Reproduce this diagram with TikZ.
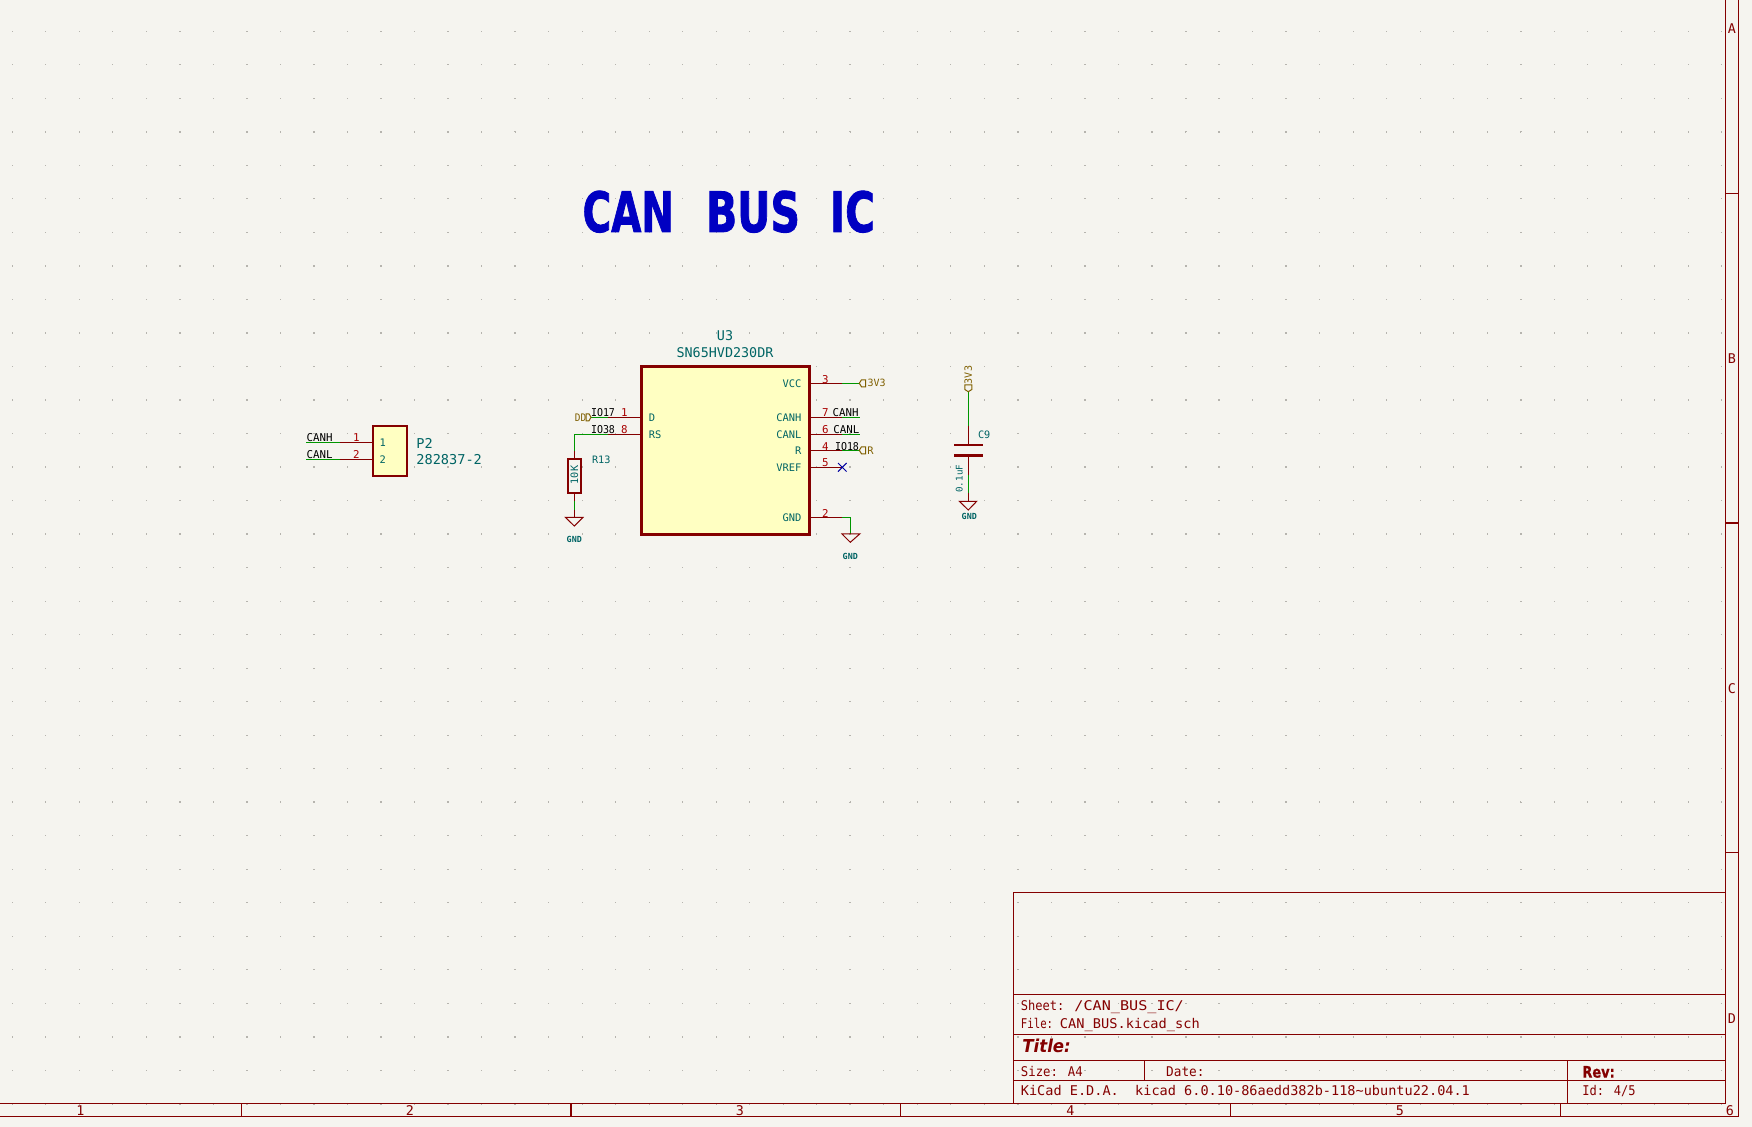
\documentclass[tikz,border=0pt]{standalone}
\usepackage{fontspec}
\setmainfont{DejaVu Sans Mono}
\newfontfamily\boldsans{DejaVu Sans}
\newfontfamily\headfont[FakeBold=1.6]{DejaVu Sans Bold}
\newfontfamily\tbfont[FakeBold=0.6]{DejaVu Sans Bold}
\definecolor{bgc}{HTML}{F5F4EF}
\definecolor{dotc}{HTML}{B6B4AE}
\definecolor{frm}{HTML}{840000}
\definecolor{wirec}{HTML}{009600}
\definecolor{pinnum}{HTML}{A90000}
\definecolor{teal}{HTML}{006464}
\definecolor{hier}{HTML}{7F5F00}
\definecolor{symfill}{HTML}{FFFFC2}
\definecolor{titleblue}{HTML}{0000C2}
\definecolor{xblue}{HTML}{0000A0}
\newcommand{\hs}[2]{\scalebox{#1}[1]{#2}}
\tikzset{
  x=0.5pt,y=-0.5pt,
  lab/.style={font=\fontsize{#1pt}{#1pt}\selectfont,text height=0.73*#1 pt,text depth=0pt,inner sep=0pt},
  down/.style={yshift=-0.4pt},
  frametxt/.style={lab=6.7,text=frm,down},
  net/.style={lab=5.4,text=black,down},
  pinno/.style={lab=5.4,text=pinnum,down},
  pinname/.style={lab=5.2,text=teal,down},
  refd/.style={lab=#1,text=teal,down},
  gndtxt/.style={lab=4.2,text=teal,font=\fontsize{4.2pt}{4.2pt}\selectfont\bfseries},
  hiertxt/.style={lab=#1,text=hier},
  frameline/.style={draw=frm,line width=0.6pt},
  wire/.style={draw=wirec,line width=0.6pt},
  pin/.style={draw=frm,line width=0.6pt},
  bodyline/.style={draw=frm,line width=1.3pt,fill=symfill,outer sep=0pt},
  gndsym/.style={draw=frm,line width=0.5pt},
  hiersym/.style={draw=hier,line width=0.5pt},
  plate/.style={draw=frm,line width=1.35pt},
}
\begin{document}
\begin{tikzpicture}
\useasboundingbox (0,0) rectangle (1752,1127);
\fill[bgc] (0,0) rectangle (1752,1127);
% grid
\foreach \i in {0,...,51}{\foreach \j in {0,...,32}{
  \fill[dotc] ({12.3+33.52*\i-0.6},{31.3+33.52*\j-0.6}) rectangle ++(1.2,1.2);}}
\foreach \i in {5,15,25,35,45}{\foreach \j in {0,...,32}{
  \fill[dotc] ({12.3+33.52*\i-1},{31.3+33.52*\j-0.6}) rectangle ++(2,1.2);}}
\foreach \j in {3,13,23}{\foreach \i in {0,...,51}{
  \fill[dotc] ({12.3+33.52*\i-0.6},{31.3+33.52*\j-1}) rectangle ++(1.2,2);}}
% frame
\coordinate (fTL1) at (1725.5,0); \coordinate (fBR1) at (1725.5,1103.3); \coordinate (fBL1) at (0,1103.3);
\coordinate (fTL2) at (1738.5,0); \coordinate (fBR2) at (1738.5,1116.3); \coordinate (fBL2) at (0,1116.3);
\draw[frameline] (fTL1)--(fBR1)--(fBL1);
\draw[frameline] (fTL2)--(fBR2)--(fBL2);
\foreach \x in {241.3,571,900.8,1230.7,1560.7}{\draw[frameline] (\x,1103.3)--(\x,1116.3);}
\foreach \y in {193.3,523,852.7}{\draw[frameline] (1725.5,\y)--(1738.5,\y);}
\node[frametxt] (c1) at (80.5,1110) {1};
\node[frametxt] (c2) at (410,1110) {2};
\node[frametxt] (c3) at (740,1110) {3};
\node[frametxt] (c4) at (1070.5,1110) {4};
\node[frametxt] (c5) at (1400,1110) {5};
\node[frametxt] (c6) at (1730,1110) {6};
\node[frametxt] (rA) at (1732,28) {A};
\node[frametxt] (rB) at (1732,358) {B};
\node[frametxt] (rC) at (1732,687.5) {C};
\node[frametxt] (rD) at (1732,1017.7) {D};
% title block
\draw[frameline] (1013.4,1103.3)--(1013.4,892.3)--(1725.5,892.3);
\draw[frameline] (1013.4,994.3)--(1725.5,994.3);
\draw[frameline] (1013.4,1034.3)--(1725.5,1034.3);
\draw[frameline] (1013.4,1060.3)--(1725.5,1060.3);
\draw[frameline] (1013.4,1080.3)--(1725.5,1080.3);
\draw[frameline] (1144.4,1060.3)--(1144.4,1080.3);
\draw[frameline] (1567.4,1060.3)--(1567.4,1103.3);
\node[frametxt,anchor=west] (tbSheet) at (1020.5,1005) {\hs{0.9}{Sheet:}\hspace{5pt}\hs{1.13}{/CAN\_BUS\_IC/}};
\node[frametxt,anchor=west] (tbFile) at (1020.5,1022.7) {\hs{0.8}{File:}\hspace{3.4pt}\hs{1.02}{CAN\_BUS.kicad\_sch}};
\node[lab=8.9,text=frm,anchor=west,font=\boldsans\fontsize{8.9pt}{8.9pt}\selectfont\bfseries\itshape] (tbTitle) at (1022,1046.5) {\hs{0.93}{Title:}};
\node[frametxt,anchor=west] (tbSize) at (1020.5,1071.3) {\hs{0.92}{Size: A4}};
\node[frametxt,anchor=west] (tbDate) at (1165.8,1071.3) {\hs{0.95}{Date:}};
\node[lab=7.9,text=frm,anchor=west,font=\tbfont\fontsize{7.9pt}{7.9pt}\selectfont] (tbRev) at (1582,1071.8) {\hs{0.82}{Rev:}};
\node[frametxt,anchor=west] (tbKicad) at (1020.5,1090.3) {\hs{1.012}{KiCad E.D.A.\ \ kicad 6.0.10-86aedd382b-118\textasciitilde ubuntu22.04.1}};
\node[frametxt,anchor=west] (tbId) at (1582,1090.3) {\hs{0.9}{Id: 4/5}};
% heading
\node[inner sep=0pt,text=titleblue,anchor=center] (heading) at (728.8,211.7)
  {\headfont\resizebox{45.7pt}{20.6pt}{CAN}\hspace{16pt}\resizebox{47pt}{20.6pt}{BUS}\hspace{15pt}\resizebox{22.5pt}{20.6pt}{IC}};
% P2
\node[bodyline,minimum width=17.3pt,minimum height=25pt,inner sep=0pt,anchor=north west,line width=1pt] (P2) at (372.7,426) {};
\coordinate (p2a) at (372.7,442.3); \coordinate (p2b) at (372.7,459.3);
\coordinate (p2am) at (340,442.3); \coordinate (p2bm) at (340,459.3);
\coordinate (p2ae) at (306,442.3); \coordinate (p2be) at (306,459.3);
\draw[pin] (p2a)--(p2am); \draw[pin] (p2b)--(p2bm);
\draw[wire] (p2am)--(p2ae); \draw[wire] (p2bm)--(p2be);
\node[net] (lCanhP) at (319.7,437) {CANH};
\node[net] (lCanlP) at (319.7,454) {CANL};
\node[pinno] (pn1) at (356.3,437) {1};
\node[pinno] (pn2) at (356.3,454) {2};
\node[pinname] (in1) at (382.7,442.3) {1};
\node[pinname] (in2) at (382.7,459.3) {2};
\node[refd=6.8,anchor=west] (P2ref) at (416,442.3) {P2};
\node[refd=6.8,anchor=west] (P2val) at (416,459) {282837-2};
% U3
\node[bodyline,minimum width=84pt,minimum height=83.8pt,inner sep=0pt,anchor=north west] (U3) at (641.3,366.7) {};
\node[refd=6.7] (U3ref) at (725,334.7) {U3};
\node[refd=6.7] (U3val) at (725,351.7) {SN65HVD230DR};
% U3 left pins
\coordinate (uD) at (641.3,417.3); \coordinate (uDm) at (608,417.3); \coordinate (uDe) at (591,417.3);
\coordinate (uRS) at (641.3,434.3); \coordinate (uRSm) at (608,434.3); \coordinate (cR) at (574.3,434.3);
\draw[pin] (uD)--(uDm); \draw[wire] (uDm)--(uDe);
\draw[pin] (uRS)--(uRSm);
\node[pinname,anchor=west] (nD) at (648.5,417.3) {D};
\node[pinname,anchor=west] (nRS) at (648.5,434.3) {RS};
\node[net] (lIO17) at (603,412) {\hs{0.92}{IO17}};
\node[net] (lIO38) at (603,429) {\hs{0.92}{IO38}};
\node[pinno] (pnD) at (624.3,412) {1};
\node[pinno] (pnRS) at (624.3,429) {8};
\draw[hiersym] (uDe)--(589,413.8)--(586,413.8)--(586,420.8)--(589,420.8)--cycle;
\node[hiertxt=5.2] (lDD) at (580.5,417.3) {\hs{0.9}{DD}};
% R13
\node[draw=frm,line width=1pt,minimum width=6.6pt,minimum height=17pt,inner sep=0pt] (R13) at (574.3,475.8) {};
\coordinate (rTop) at (574.3,450.7); \coordinate (rBotm) at (574.3,501); \coordinate (rBotw) at (574.3,510);
\coordinate (gR) at (574.3,517.3);
\draw[wire] (uRSm)--(cR)--(rTop);
\draw[pin] (rTop)--(R13.north);
\draw[pin] (R13.south)--(rBotm);
\draw[wire] (rBotm)--(rBotw);
\draw[pin] (rBotw)--(gR);
\draw[gndsym] (565.3,517.3)--(583,517.3)--(574.3,526)--cycle;
\node[gndtxt] (gndR) at (574.3,539) {GND};
\node[lab=5.1,text=teal,rotate=90] (Rval) at (574.3,475) {10K};
\node[refd=5.1,anchor=west] (Rref) at (591.7,459) {R13};
% U3 right pins
\coordinate (uV) at (809.3,383.3); \coordinate (uVm) at (842,383.3); \coordinate (uVe) at (859.3,383.3);
\coordinate (uH) at (809.3,417.3); \coordinate (uHm) at (842,417.3); \coordinate (uHe) at (860,417.3);
\coordinate (uL) at (809.3,434.3); \coordinate (uLm) at (842,434.3); \coordinate (uLe) at (860,434.3);
\coordinate (uR) at (809.3,450.3); \coordinate (uRm) at (842,450.3); \coordinate (uRe) at (859.3,450.3);
\coordinate (uF) at (809.3,467.3); \coordinate (uFm) at (842.3,467.3);
\coordinate (uG) at (809.3,517.3); \coordinate (uGm) at (842,517.3); \coordinate (uGc) at (850.3,517.3); \coordinate (uGe) at (850.3,534);
\draw[pin] (uV)--(uVm); \draw[wire] (uVm)--(uVe);
\draw[pin] (uH)--(uHm); \draw[wire] (uHm)--(uHe);
\draw[pin] (uL)--(uLm); \draw[wire] (uLm)--(uLe);
\draw[pin] (uR)--(uRm); \draw[wire] (uRm)--(uRe);
\draw[pin] (uF)--(uFm);
\draw[pin] (uG)--(uGm); \draw[wire] (uGm)--(uGc)--(uGe);
\draw[xblue,line width=0.5pt] (838,463)--(846.6,471.6) (838,471.6)--(846.6,463);
\node[pinname,anchor=east] (nV) at (801.7,383.3) {VCC};
\node[pinname,anchor=east] (nH) at (801.7,417.3) {CANH};
\node[pinname,anchor=east] (nL) at (801.7,434.3) {CANL};
\node[pinname,anchor=east] (nR) at (801.7,450.3) {R};
\node[pinname,anchor=east] (nF) at (801.7,467.3) {VREF};
\node[pinname,anchor=east] (nG) at (801.7,517.3) {GND};
\node[pinno] (pV) at (825.3,378.3) {3};
\node[pinno] (pH) at (825.3,412) {7};
\node[pinno] (pL) at (825.3,429) {6};
\node[pinno] (pR) at (825.3,445.3) {4};
\node[pinno] (pF) at (825.3,462) {5};
\node[pinno] (pG) at (825.3,512.5) {2};
\node[net] (lCanhU) at (845.7,412) {CANH};
\node[net] (lCanlU) at (846.3,429) {CANL};
\node[net] (lIO18) at (847,445.3) {\hs{0.92}{IO18}};
\draw[hiersym] (uVe)--(861.5,379.8)--(865.7,379.8)--(865.7,386.8)--(861.5,386.8)--cycle;
\node[hiertxt=5.0,anchor=west] (l3V3) at (867.2,383.3) {3V3};
\draw[hiersym] (uRe)--(861.5,446.8)--(865.7,446.8)--(865.7,453.8)--(861.5,453.8)--cycle;
\node[hiertxt=5.2] (lR) at (870.5,450.3) {R};
\draw[gndsym] (842,534)--(859.7,534)--(850.3,542.3)--cycle;
\node[gndtxt] (gndU) at (850.3,556) {GND};
% C9
\coordinate (cTip) at (968.3,391.7); \coordinate (cWm) at (968.3,425.7);
\coordinate (cP1) at (968.3,445); \coordinate (cP2) at (968.3,455.3);
\coordinate (cL1) at (968.3,475); \coordinate (cL2) at (968.3,492.7); \coordinate (cG) at (968.3,501.3);
\draw[wire] (cTip)--(cWm); \draw[pin] (cWm)--(cP1);
\draw[pin] (cP2)--(cL1); \draw[wire] (cL1)--(cL2); \draw[pin] (cL2)--(cG);
\draw[plate] (954,445)--(983,445); \draw[plate] (954,455.3)--(983,455.3);
\draw[hiersym] (cTip)--(964.8,389.5)--(964.8,385)--(971.8,385)--(971.8,389.5)--cycle;
\node[hiertxt=5.0,rotate=90] (cV) at (968.3,375) {3V3};
\node[refd=5.1,anchor=west] (cRef) at (977.7,434) {C9};
\node[lab=4.6,text=teal,rotate=90] (cVal) at (959.3,478.7) {0.1uF};
\draw[gndsym] (959.3,501.3)--(976.7,501.3)--(968.3,510)--cycle;
\node[gndtxt] (gndC) at (969.3,516) {GND};
\end{tikzpicture}
\end{document}
